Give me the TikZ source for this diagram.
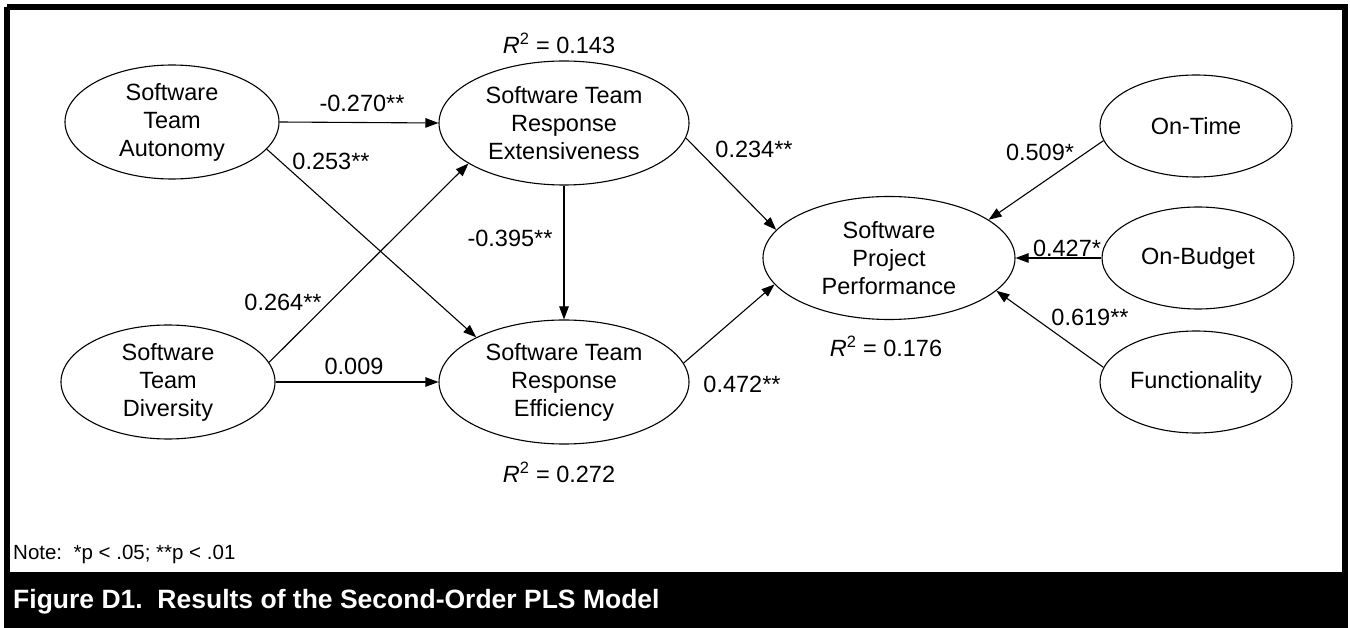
\documentclass[tikz,border=0pt]{standalone}
\usepackage{fontspec}
\setmainfont{Liberation Sans}
\usetikzlibrary{shapes.geometric,arrows.meta}
\begin{document}
\begin{tikzpicture}[x=1pt,y=-1pt,
  every node/.style={font=\fontsize{23.5}{28}\selectfont},
  lat/.style={draw,ellipse,line width=1.1pt,inner sep=0pt,align=center},
  big/.style={lat,minimum width=250pt,minimum height=124pt},
  small/.style={lat,minimum width=214pt,minimum height=114pt},
  ind/.style={lat,minimum width=192pt,minimum height=102pt},
  perf/.style={lat,minimum width=252pt,minimum height=123pt},
  conn/.style={line width=1.1pt,-{Triangle[length=13pt,width=9.5pt]}},
  lbl/.style={inner sep=0pt}
]
\useasboundingbox (0,0) rectangle (1350,628);
\fill[white] (0,0) rectangle (1350,628);
% frame and caption band
\draw[line width=6pt] (7,7) -- (1345,7) -- (1345,628);
\draw[line width=6pt] (7,7) -- (7,628);
\fill[black] (4,572) rectangle (1348,628);
\node[lbl,anchor=west,text=white,font=\fontsize{26.5}{31}\selectfont\bfseries] (cap) at (13,602) {Figure D1.\ \ Results of the Second-Order PLS Model};
\node[lbl,anchor=west,font=\fontsize{20.5}{24}\selectfont] (note) at (13,554) {Note:\ \ *p < .05; **p < .01};

% nodes
\node[small] (auto) at (172,122) {Software\\Team\\Autonomy};
\node[small] (div) at (168,382) {Software\\Team\\Diversity};
\node[big] (ext) at (564,123) {Software Team\\Response\\Extensiveness};
\node[big] (eff) at (564,382) {Software Team\\Response\\Efficiency};
\node[perf] (perfn) at (889,258) {Software\\Project\\Performance};
\node[ind] (time) at (1196,126) {On-Time};
\node[ind] (budget) at (1198,258) {On-Budget};
\node[ind] (func) at (1196,382) {Functionality};

% connectors
\draw[conn] (auto.east) -- (ext.west);
\draw[conn] (auto.-16) -- (eff.153);
\draw[conn] (div.11) -- (ext.203.5);
\draw[conn] (div.east) -- (eff.west);
\draw[conn] (ext.south) -- (eff.north);
\draw[conn] (ext.-7.5) -- (perfn.166);
\draw[conn] (eff.9) -- (perfn.193);
\draw[conn] (time.189.7) -- (perfn.21);
\draw[conn] (budget.west) -- (perfn.east);
\draw[conn] (func.171.7) -- (perfn.-17.3);

% labels
\node[lbl] (l1) at (362,103) {-0.270**};
\node[lbl] (l2) at (331,161) {0.253**};
\node[lbl] (l3) at (283,302) {0.264**};
\node[lbl] (l4) at (354,366) {0.009};
\node[lbl] (l5) at (510,238) {-0.395**};
\node[lbl] (l6) at (754,149) {0.234**};
\node[lbl] (l7) at (742,384) {0.472**};
\node[lbl] (l8) at (1040,152) {0.509*};
\node[lbl] (l9) at (1067,248) {0.427*};
\node[lbl] (l10) at (1090,317) {0.619**};
\node[lbl] (r1) at (559,43) {{\itshape R}\textsuperscript{2} = 0.143};
\node[lbl] (r2) at (559,472) {{\itshape R}\textsuperscript{2} = 0.272};
\node[lbl] (r3) at (886,346) {{\itshape R}\textsuperscript{2} = 0.176};
\end{tikzpicture}
\end{document}
